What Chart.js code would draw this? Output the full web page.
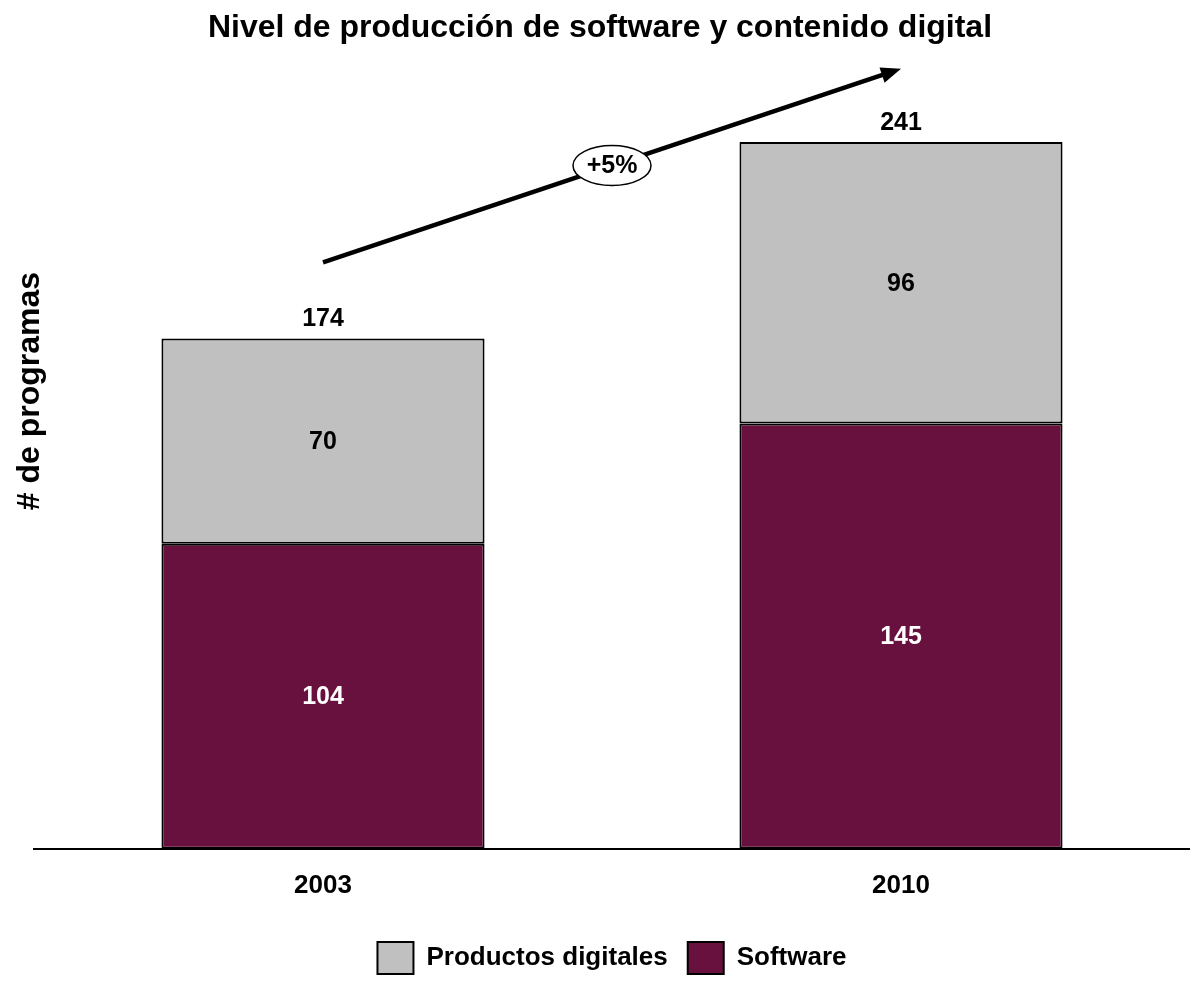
<!DOCTYPE html>
<html lang="es">
<head>
    <meta charset="UTF-8">
    <title>Nivel de producción de software y contenido digital</title>
    <script src="https://cdn.jsdelivr.net/npm/chart.js"></script>
    <style>
        body { margin: 0; background: #fff; }
        #wrap { width: 1190px; height: 997px; }
    </style>
</head>
<body>
    <div id="wrap"><canvas id="chart"></canvas></div>
    <script>
        const years = ['2003', '2010'];
        const software = [104, 145];
        const digitales = [70, 96];
        const totals = [174, 241];
        const growthLabel = '+5%';
        // arrow runs from category 0 to category 1, in value units
        const arrowFrom = 200;
        const arrowTo = 266;

        const FONT = 'Arial, "Liberation Sans", Helvetica, sans-serif';

        const labelsPlugin = {
            id: 'labels',
            afterDatasetsDraw(chart) {
                const ctx = chart.ctx;
                const x = chart.scales.x, y = chart.scales.y;
                ctx.save();
                ctx.textAlign = 'center';
                ctx.textBaseline = 'middle';

                // title, centred on the page rather than the plot
                ctx.fillStyle = '#000';
                ctx.font = 'bold 32px ' + FONT;
                ctx.fillText('Nivel de producción de software y contenido digital', chart.width / 2 + 5, 28);

                ctx.font = 'bold 25px ' + FONT;
                chart.data.datasets.forEach((ds, i) => {
                    chart.getDatasetMeta(i).data.forEach((bar, j) => {
                        ctx.fillStyle = i === 0 ? '#ffffff' : '#000000';
                        ctx.fillText(ds.data[j], bar.x, (bar.y + bar.base) / 2 + 1);
                    });
                });
                ctx.fillStyle = '#000';
                totals.forEach((t, j) => {
                    ctx.fillText(t, x.getPixelForValue(j), y.getPixelForValue(t) - 19);
                });

                // growth arrow
                const x0 = x.getPixelForValue(0), y0 = y.getPixelForValue(arrowFrom);
                const x1 = x.getPixelForValue(1), y1 = y.getPixelForValue(arrowTo);
                const ang = Math.atan2(y1 - y0, x1 - x0);
                ctx.strokeStyle = '#000';
                ctx.lineWidth = 4.5;
                ctx.beginPath();
                ctx.moveTo(x0, y0);
                ctx.lineTo(x1 - 14 * Math.cos(ang), y1 - 14 * Math.sin(ang));
                ctx.stroke();
                ctx.beginPath();
                ctx.moveTo(x1, y1);
                ctx.lineTo(x1 - 20 * Math.cos(ang) + 8 * Math.sin(ang), y1 - 20 * Math.sin(ang) - 8 * Math.cos(ang));
                ctx.lineTo(x1 - 20 * Math.cos(ang) - 8 * Math.sin(ang), y1 - 20 * Math.sin(ang) + 8 * Math.cos(ang));
                ctx.closePath();
                ctx.fill();

                const mx = (x0 + x1) / 2, my = (y0 + y1) / 2;
                ctx.beginPath();
                ctx.ellipse(mx, my, 39, 20, 0, 0, Math.PI * 2);
                ctx.fillStyle = '#fff';
                ctx.fill();
                ctx.lineWidth = 1.5;
                ctx.stroke();
                ctx.fillStyle = '#000';
                ctx.fillText(growthLabel, mx, my + 1);

                // y axis title
                ctx.translate(30, 391);
                ctx.rotate(-Math.PI / 2);
                ctx.font = 'bold 32px ' + FONT;
                ctx.fillText('# de programas', 0, 0);
                ctx.restore();
            }
        };

        new Chart(document.getElementById('chart'), {
            type: 'bar',
            data: {
                labels: years,
                datasets: [
                    { label: 'Software', data: software, backgroundColor: '#68103E', borderColor: '#000', borderWidth: 2, borderSkipped: false },
                    { label: 'Productos digitales', data: digitales, backgroundColor: '#C0C0C0', borderColor: '#000', borderWidth: 2, borderSkipped: false }
                ]
            },
            options: {
                responsive: true,
                maintainAspectRatio: false,
                animation: false,
                layout: { padding: { left: 34, right: 0, top: 57, bottom: 13 } },
                datasets: { bar: { categoryPercentage: 1, barPercentage: 0.559 } },
                scales: {
                    x: {
                        stacked: true,
                        grid: { display: false, drawTicks: false },
                        border: { display: true, color: '#000', width: 2 },
                        ticks: { padding: 21, color: '#000', font: { family: FONT, size: 26, weight: 'bold' } }
                    },
                    y: { stacked: true, display: false, min: 0, max: 270 }
                },
                plugins: {
                    title: { display: false },
                    legend: {
                        position: 'bottom',
                        reverse: true,
                        labels: {
                            color: '#000',
                            boxWidth: 36,
                            boxHeight: 32,
                            padding: 20,
                            font: { family: FONT, size: 26, weight: 'bold' }
                        }
                    },
                    tooltip: { enabled: false }
                }
            },
            plugins: [labelsPlugin]
        });
    </script>
</body>
</html>
